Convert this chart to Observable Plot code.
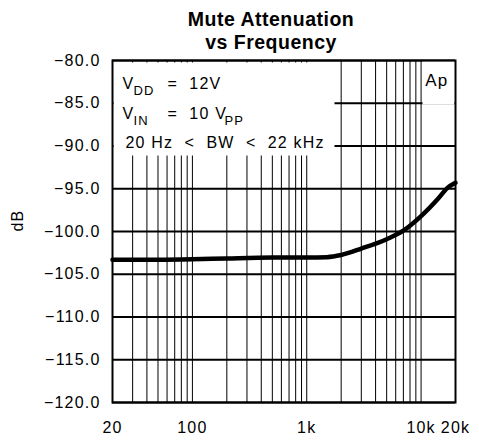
<!DOCTYPE html>
<html><head><meta charset="utf-8">
<script src="https://cdn.jsdelivr.net/npm/d3@7"></script>
<script src="https://cdn.jsdelivr.net/npm/@observablehq/plot@0.6"></script>
<style>
body{margin:0;background:#fff}
svg text{letter-spacing:1.2px}
svg g[font-weight="bold"] text{letter-spacing:0.5px}
</style></head><body><div id="chart"></div>
<script>
// Curve: frequency (Hz) and mute attenuation (dB)
const freqs = [20, 30, 50, 100, 200, 500, 1000, 1500, 2000, 3000, 5000, 7000, 10000, 14000, 17000, 20000];
const attenuation = [-103.3, -103.3, -103.3, -103.25, -103.15, -103.05, -103.05, -103.0, -102.75, -102.0, -100.9, -99.9, -98.2, -96.2, -94.9, -94.3];

// Axes
const xTicks = [20, 100, 1000, 10000, 20000];
const xTickLabels = ["20", "100", "1k", "10k", "20k"];
const yTicks = [-80, -85, -90, -95, -100, -105, -110, -115, -120];
const yTickLabels = ["−80.0", "−85.0", "−90.0", "−95.0", "−100.0", "−105.0", "−110.0", "−115.0", "−120.0"];
const gridFreqs = [30, 40, 50, 60, 70, 80, 90, 100, 200, 300, 400, 500, 600, 700, 800, 900, 1000, 2000, 3000, 4000, 5000, 6000, 7000, 8000, 9000, 10000];

// Texts
const titleLines = ["Mute Attenuation", "vs Frequency"];
const yLabel = "dB";
const apLabel = "Ap";
const NB = "\u00a0";

const data = freqs.map((f, i) => ({f, v: attenuation[i]}));
const xLab = new Map(xTicks.map((t, i) => [t, xTickLabels[i]]));
const yLab = new Map(yTicks.map((t, i) => [t, yTickLabels[i]]));

const txt = (s, o) => Plot.text([s], {text: d => d, frameAnchor: "top-left", textAnchor: "start", lineAnchor: "bottom", fontSize: 16, ...o});

const chart = Plot.plot({
  width: 479, height: 441,
  marginLeft: 112, marginRight: 24, marginTop: 60, marginBottom: 39,
  style: {fontFamily: "'Liberation Sans', Arial, sans-serif", fontSize: "16px", color: "black", background: "white"},
  x: {type: "log", domain: [20, 20000], ticks: xTicks, tickFormat: d => xLab.get(d), tickSize: 0, tickPadding: 19, label: null},
  y: {domain: [-120, -80], ticks: yTicks, tickFormat: d => yLab.get(d), tickSize: 0, tickPadding: 12, label: null},
  marks: [
    Plot.ruleX(gridFreqs, {stroke: "black", strokeWidth: 1}),
    Plot.ruleY(yTicks, {stroke: "black", strokeWidth: 2}),
    Plot.frame({fill: "white", stroke: null, insetLeft: 1, insetTop: 2, insetRight: 121, insetBottom: 247}),
    Plot.frame({fill: "white", stroke: null, insetLeft: 310, insetTop: 1, insetRight: 1, insetBottom: 298}),
    Plot.line(data, {x: "f", y: "v", curve: "monotone-x", stroke: "black", strokeWidth: 4.5}),
    Plot.frame({stroke: "black", strokeWidth: 2}),
    // title (two lines)
    Plot.text([titleLines.join("\n")], {text: d => d, frameAnchor: "top", dx: -13, dy: -12, lineAnchor: "bottom", lineHeight: 1.17, fontSize: 19.5, fontWeight: "bold"}),
    // y label
    Plot.text([yLabel], {text: d => d, frameAnchor: "left", dx: -95, rotate: -90, fontSize: 16}),
    // annotations
    txt("V", {dx: 10, dy: 28}),
    txt("DD", {dx: 21, dy: 34, fontSize: 13}),
    txt("=" + NB + NB + "12V", {dx: 55, dy: 28}),
    txt("V", {dx: 10, dy: 58}),
    txt("IN", {dx: 21, dy: 64, fontSize: 13}),
    txt("=" + NB + NB + "10" + NB + "V", {dx: 55, dy: 58}),
    txt("PP", {dx: 112, dy: 64, fontSize: 13}),
    txt("20" + NB + "Hz" + NB + NB + "<" + NB + NB + "BW" + NB + NB + "<" + NB + NB + "22" + NB + "kHz", {dx: 13, dy: 87}),
    Plot.text([apLabel], {text: d => d, frameAnchor: "top-right", textAnchor: "end", lineAnchor: "bottom", dx: -7, dy: 25, fontSize: 17})
  ]
});
document.getElementById("chart").appendChild(chart);
</script></body></html>
